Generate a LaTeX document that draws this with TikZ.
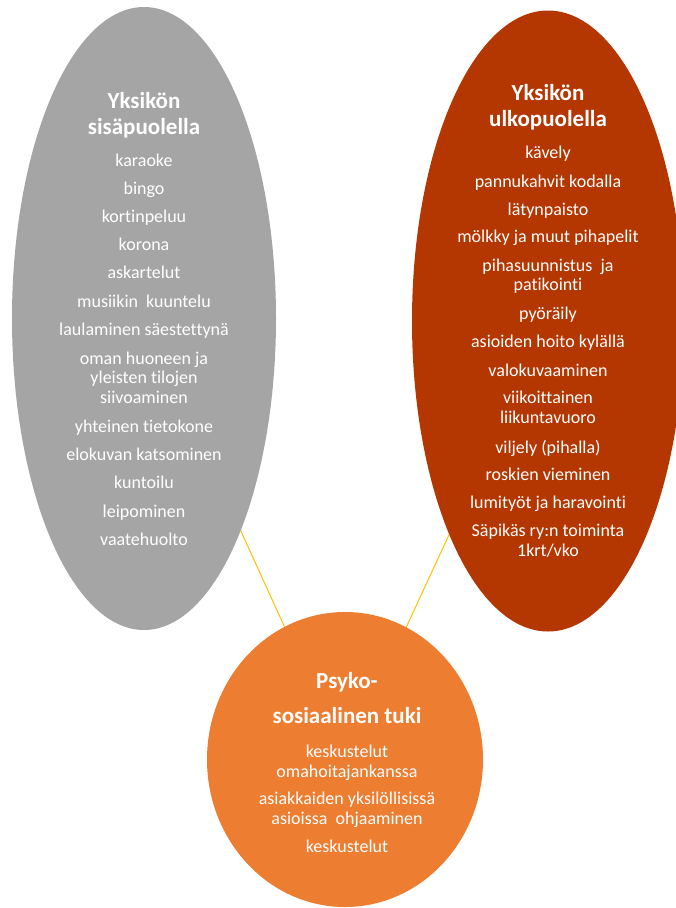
\documentclass[tikz,border=0pt]{standalone}
\usepackage{fontspec}
\setmainfont{Carlito}[Ligatures=NoCommon]
\usetikzlibrary{shapes.geometric,backgrounds}
\definecolor{grayfill}{HTML}{A5A5A5}
\definecolor{rustfill}{HTML}{B43600}
\definecolor{orangefill}{HTML}{ED7D31}
\definecolor{conncol}{HTML}{FFC000}
\tikzset{
  blob/.style={ellipse, inner sep=0pt, draw=none},
  ttl/.style={text=white, font=\bfseries\fontsize{23}{27}\selectfont, anchor=base, inner sep=0pt},
  itm/.style={text=white, font=\fontsize{18}{19.5}\selectfont, anchor=base, inner sep=0pt},
  conn/.style={draw=conncol, line width=1pt}
}
\begin{document}
\begin{tikzpicture}[x=1pt,y=-1pt]
\useasboundingbox (0,0) rectangle (676,908);
\node[blob, fill=grayfill, minimum width=264pt, minimum height=623pt] (inside) at (144,318.5) {};
\node[blob, fill=rustfill, minimum width=272pt, minimum height=621pt] (outside) at (548,321) {};
\node[blob, fill=orangefill, minimum width=276pt, minimum height=295pt] (psy) at (345,759.5) {};
\begin{pgfonlayer}{background}
\draw[conn] (inside.center) -- (psy.center);
\draw[conn] (outside.center) -- (psy.center);
\end{pgfonlayer}
% left
\node[ttl] (lt1) at (144,108) {Yksikön};
\node[ttl] (lt2) at (144,134) {sisäpuolella};
\foreach \t/\y [count=\i] in {karaoke/166, bingo/194.5, kortinpeluu/222, korona/250, askartelut/278.5, musiikin\ \ kuuntelu/307, laulaminen säestettynä/335, oman huoneen ja/364, yleisten tilojen/383, siivoaminen/403, yhteinen tietokone/432, elokuvan katsominen/460, kuntoilu/488, leipominen/517, vaatehuolto/545}
  \node[itm] (li\i) at (144,\y) {\t};
% right
\node[ttl] (rt1) at (548,100) {Yksikön};
\node[ttl] (rt2) at (548,126) {ulkopuolella};
\foreach \t/\y [count=\i] in {kävely/158, pannukahvit kodalla/187, lätynpaisto/215, mölkky ja muut pihapelit/242, pihasuunnistus\ \ ja/271, patikointi/290, pyöräily/319, asioiden hoito kylällä/347, valokuvaaminen/376, viikoittainen/403, liikuntavuoro/423, viljely (pihalla)/453, roskien vieminen/480, lumityöt ja haravointi/508, Säpikäs ry:n toiminta/536, {1krt/vko}/556}
  \node[itm] (ri\i) at (548,\y) {\t};
% circle
\node[ttl] (ct1) at (347,688) {Psyko-};
\node[ttl] (ct2) at (347,723) {sosiaalinen tuki};
\foreach \t/\y [count=\i] in {keskustelut/757, omahoitajankanssa/777, asiakkaiden yksilöllisissä/804, asioissa\ \ ohjaaminen/824, keskustelut/852}
  \node[itm] (ci\i) at (347,\y) {\t};
\end{tikzpicture}
\end{document}
